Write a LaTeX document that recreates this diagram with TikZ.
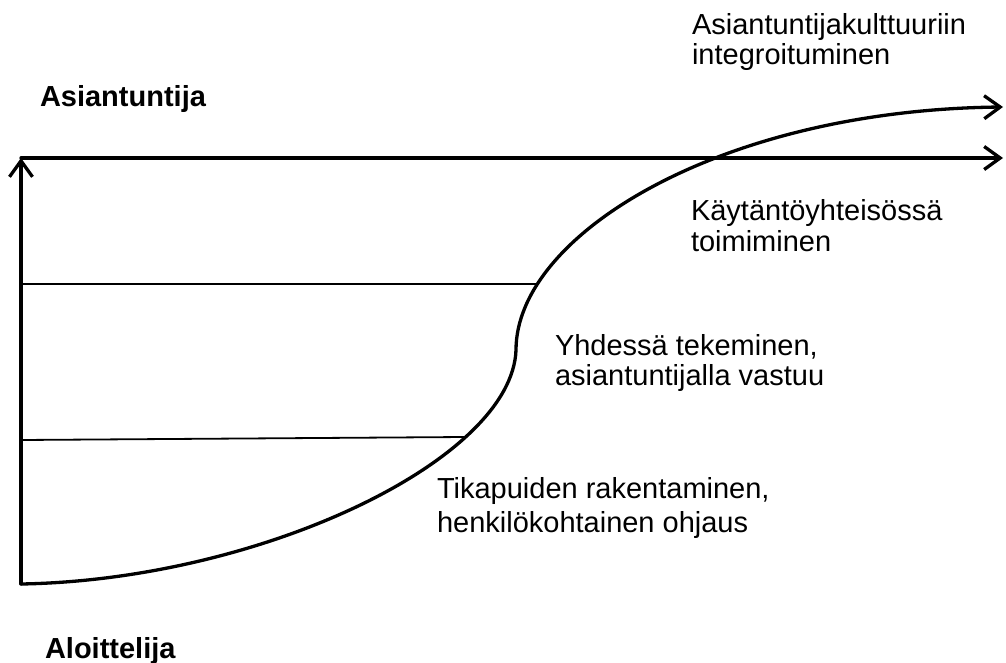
\documentclass[tikz,border=0pt]{standalone}
\usepackage{fontspec}
\setmainfont{Liberation Sans}
\usetikzlibrary{arrows.meta}
% two-line label with its own line spacing; baseline is that of the first line
\newcommand\twolines[3]{\vtop{\baselineskip=#1pt\hbox{#2}\hbox{#3}}}

\begin{document}
\begin{tikzpicture}[x=1pt,y=-1pt,
  heavy/.style={line width=3.3pt, line cap=round, line join=round},
  rung/.style={line width=1.8pt},
  barb/.style={-{Straight Barb[length=16pt,width=23pt]}},
  lbl/.style={anchor=base west, inner sep=0pt, outer sep=0pt,
              font=\fontsize{29}{30}\selectfont},
  title/.style={lbl, font=\fontsize{29}{30}\selectfont\bfseries}]
\useasboundingbox (0,0) rectangle (1006,663);

% axes and the learning curve
\coordinate (origin)   at (21,584);
\coordinate (top)      at (21,158);
\coordinate (axisend)  at (1003,158);
\coordinate (bend)     at (516,350);
\coordinate (curveend) at (1003,107);

\draw[heavy, barb] (origin) -- (top);
\draw[heavy, barb] (top) -- (axisend);
\draw[heavy, barb] (origin) .. controls (260,580) and (512,460) .. (bend)
                            .. controls (516,235) and (720,110) .. (curveend);

% level boundaries
\coordinate (rungAl) at (21,284);
\coordinate (rungAr) at (537,284);
\coordinate (rungBl) at (21,440);
\coordinate (rungBr) at (465,437);
\draw[rung] (rungAl) -- (rungAr);
\draw[rung] (rungBl) -- (rungBr);

% labels
\node[title] (expert) at (40,107) {Asiantuntija};
\node[title] (novice) at (45,658) {Aloittelija};
\node[lbl] (culture)  at (692,35)  {\twolines{30}{Asiantuntijakulttuuriin}{integroituminen}};
\node[lbl] (practice) at (691,220) {\twolines{32}{Käytäntöyhteisössä}{toimiminen}};
\node[lbl] (together) at (555,355) {\twolines{30}{Yhdessä tekeminen,}{asiantuntijalla vastuu}};
\node[lbl] (ladder)   at (437,498) {\twolines{34}{Tikapuiden rakentaminen,}{henkilökohtainen ohjaus}};
\end{tikzpicture}
\end{document}
